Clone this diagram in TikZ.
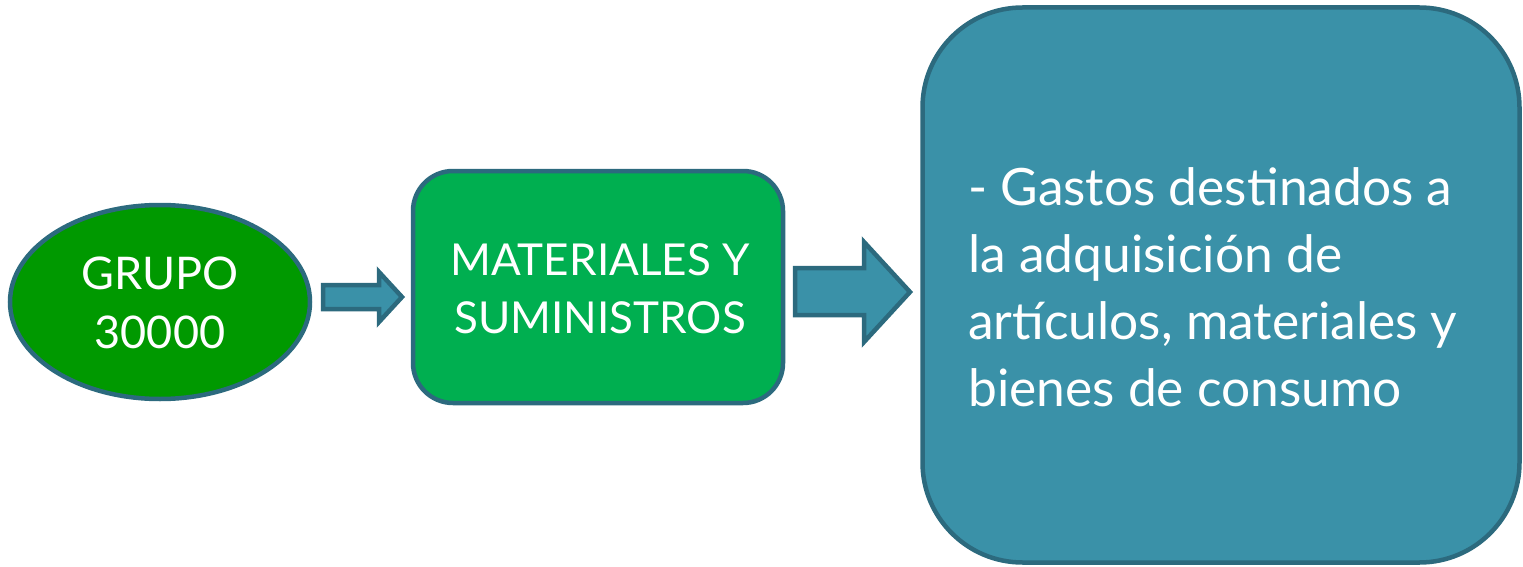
\documentclass[tikz,border=0pt]{standalone}
\usepackage{fontspec}
\setmainfont{Lato}
\usetikzlibrary{shapes.geometric}
\definecolor{edgeteal}{HTML}{2C6A7E}
\definecolor{fillteal}{HTML}{3A91A8}
\definecolor{darkgreen}{HTML}{009900}
\definecolor{lightgreen}{HTML}{00AF50}
\tikzset{
  outline/.style={draw=edgeteal, line width=4.5pt},
  blockarrow/.style={outline, fill=fillteal, line join=miter},
  wtext/.style={text=white},
}
\begin{document}
\begin{tikzpicture}[x=1pt,y=-1pt]
\useasboundingbox (0,0) rectangle (1523,567);
\node[ellipse, outline, fill=darkgreen, minimum width=300, minimum height=194, inner sep=0pt] (grupo) at (160,302) {};
\node[wtext, align=center, font=\fontsize{45}{59}\selectfont] (grupotext) at (160,303) {GRUPO\\30000};
\node[rectangle, rounded corners=40pt, outline, fill=lightgreen, minimum width=370, minimum height=232, inner sep=0pt] (mat) at (598,287) {};
\node[wtext, align=center, font=\fontsize{44}{58}\selectfont] (mattext) at (600,289) {MATERIALES Y\\SUMINISTROS};
\node[rectangle, rounded corners=100pt, outline, fill=fillteal, minimum width=597, minimum height=555, inner sep=0pt] (big) at (1221,285) {};
\node[wtext, align=left, anchor=north west, inner sep=0pt, font=\fontsize{51.5}{67}\selectfont] (bigtext) at (968,167) {- Gastos destinados a\\la adquisición de\\artículos, materiales y\\bienes de consumo};
% block arrows
\draw[blockarrow] (323,285) -- (379,285) -- (379,272) -- (402,297) -- (379,322) -- (379,309) -- (323,309) -- cycle;
\draw[blockarrow] (795,268) -- (864,268) -- (864,242) -- (910,292) -- (864,342) -- (864,315) -- (795,315) -- cycle;
\end{tikzpicture}
\end{document}
